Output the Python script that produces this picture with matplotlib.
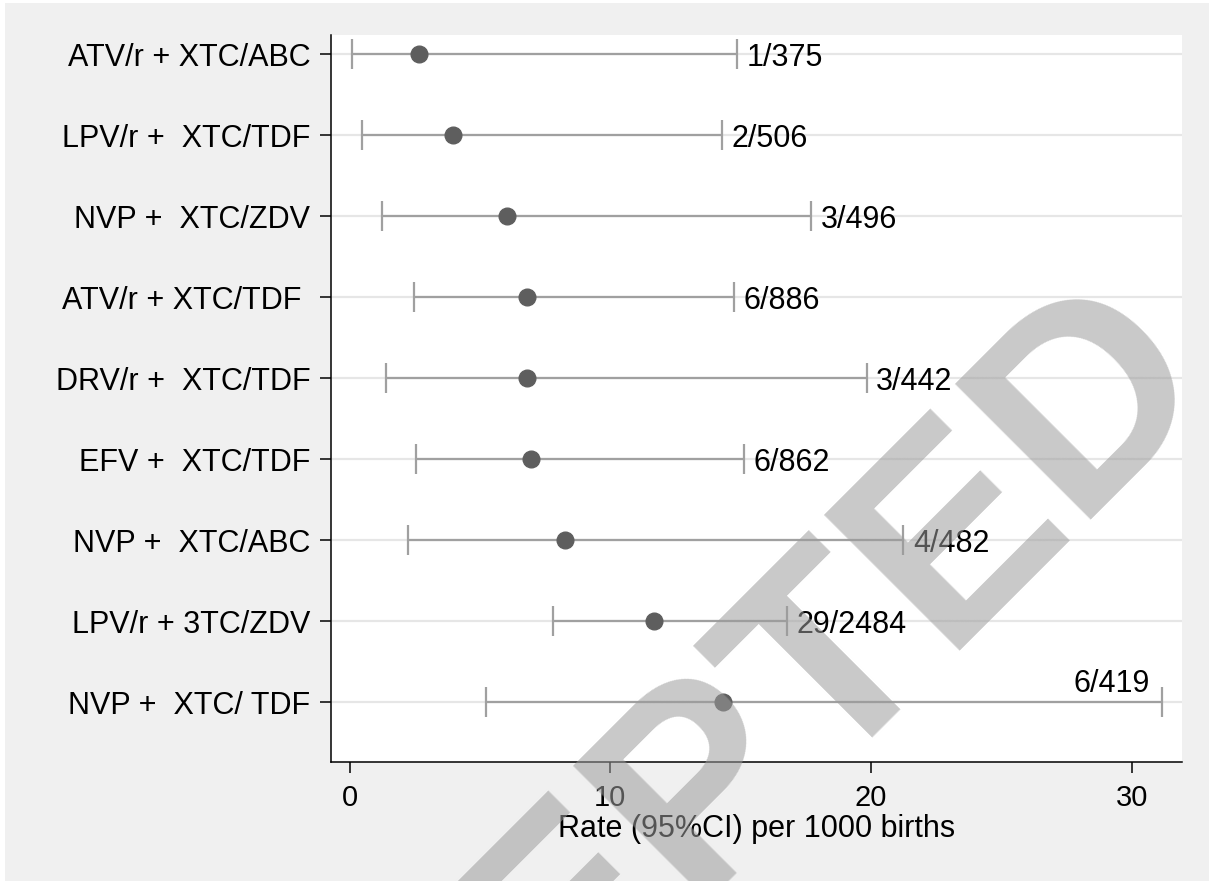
import matplotlib
matplotlib.use("Agg")
import matplotlib.pyplot as plt
from matplotlib.patches import Rectangle

plt.rcParams['font.family'] = ['Liberation Sans', 'DejaVu Sans']

# data, top row first
regimens = ["ATV/r + XTC/ABC", "LPV/r +  XTC/TDF", "NVP +  XTC/ZDV", "ATV/r + XTC/TDF ",
            "DRV/r +  XTC/TDF", "EFV +  XTC/TDF", "NVP +  XTC/ABC", "LPV/r + 3TC/ZDV",
            "NVP +  XTC/ TDF"]
rates = [2.67, 3.96, 6.05, 6.79, 6.79, 6.95, 8.28, 11.67, 14.33]
lower = [0.08, 0.47, 1.25, 2.48, 1.39, 2.54, 2.25, 7.81, 5.25]
upper = [14.85, 14.28, 17.69, 14.74, 19.83, 15.14, 21.24, 16.76, 31.16]
counts = ["1/375", "2/506", "3/496", "6/886", "3/442", "6/862", "4/482", "29/2484", "6/419"]
xticks = [0, 10, 20, 30]

bg = '#f0f0f0'
fs = 22

fig = plt.figure(figsize=(12.09, 8.81), dpi=100)
fig.patch.set_facecolor('white')
fig.patches.append(Rectangle((5 / 1209, 0), 1, 1 - 3 / 881, transform=fig.transFigure,
                             facecolor=bg, edgecolor='none', zorder=-10))
ax = fig.add_axes([0.2738, 0.1351, 0.9777 - 0.2738, 0.9603 - 0.1351])
ax.set_facecolor('white')

n = len(regimens)
ypos = list(range(n, 0, -1))

for y in ypos:
    ax.axhline(y, color='#e6e6e6', lw=1.6, zorder=0)

err = [[r - lo for r, lo in zip(rates, lower)], [up - r for r, up in zip(rates, upper)]]
ax.errorbar(rates, ypos, xerr=err, fmt='none', ecolor='#a0a0a0', elinewidth=1.6,
            capsize=10.5, capthick=1.6, zorder=2)
ax.plot(rates, ypos, 'o', color='#5e5e5e', markersize=12, zorder=3)

for i, (up, y, c) in enumerate(zip(upper, ypos, counts)):
    if i == n - 1:
        # last label sits above the bar, left of the cap
        ax.annotate(c, (up, y), xytext=(-9, 7), textcoords='offset points',
                    ha='right', va='baseline', fontsize=fs)
    else:
        ax.annotate(c, (up, y), xytext=(7, 0), textcoords='offset points',
                    ha='left', va='center_baseline', fontsize=fs)

ax.set_xlim(-0.71, 31.93)
ax.set_ylim(0.26, 9.235)
ax.set_yticks(ypos)
ax.set_yticklabels(regimens, fontsize=fs)
ax.set_xticks(xticks)
ax.set_xticklabels([str(t) for t in xticks], fontsize=21)
ax.tick_params(axis='both', length=8, width=1.1, color='black')
ax.tick_params(axis='y', pad=7)
ax.tick_params(axis='x', pad=8)
ax.set_xlabel("Rate (95%CI) per 1000 births", fontsize=fs, labelpad=1)

for s in ['top', 'right']:
    ax.spines[s].set_visible(False)
for s in ['left', 'bottom']:
    ax.spines[s].set_linewidth(1.1)

# watermark
fig.text(0.561, -0.0505, "ACCEPTED", rotation=45, rotation_mode='anchor',
         ha='center', va='baseline', fontsize=200, fontweight='bold',
         color='#9c9c9c', alpha=0.55, zorder=100)

fig.savefig("out.png", dpi=100)
